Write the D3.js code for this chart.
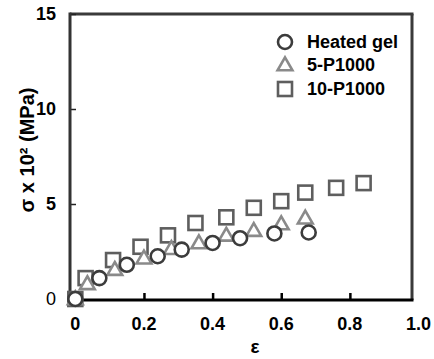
<!DOCTYPE html>
<html>
<head>
  <meta charset="utf-8">
  <script src="https://d3js.org/d3.v7.min.js"></script>
  <style>
    body { margin: 0; background: white; }
    text { font-family: "Liberation Sans", Arial, sans-serif; font-weight: bold; fill: black; }
  </style>
</head>
<body>
<script>
  // strain values and stress (x 10^2 MPa)
  var heatedX = [0, 0.07, 0.15, 0.24, 0.31, 0.4, 0.48, 0.58, 0.68];
  var heatedY = [0, 1.1, 1.8, 2.25, 2.6, 2.95, 3.2, 3.45, 3.5];

  var p5X = [0, 0.035, 0.115, 0.2, 0.28, 0.36, 0.44, 0.52, 0.6, 0.67];
  var p5Y = [0, 0.8, 1.55, 2.15, 2.65, 2.95, 3.35, 3.6, 3.95, 4.25];

  var p10X = [0, 0.03, 0.11, 0.19, 0.27, 0.35, 0.44, 0.52, 0.6, 0.67, 0.76, 0.84];
  var p10Y = [0, 1.1, 2.05, 2.75, 3.35, 4.0, 4.3, 4.8, 5.15, 5.6, 5.85, 6.1];

  var xTicks = [0, 0.2, 0.4, 0.6, 0.8, 1.0];
  var yTicks = [0, 5, 10, 15];
  var seriesNames = ["Heated gel", "5-P1000", "10-P1000"];

  var W = 434, H = 359;
  // plot box (don't use "top" as a global name, it's window.top)
  var boxL = 70, boxR = 412, boxT = 14, boxB = 299;

  var svg = d3.select("body").append("svg")
      .attr("width", W)
      .attr("height", H);

  var x = d3.scaleLinear().domain([-0.0155, 0.981]).range([boxL, boxR]);
  var y = d3.scaleLinear().domain([0, 15]).range([boxB, boxT]);

  // frame
  svg.append("line").attr("x1", boxL).attr("x2", boxR + 1.5).attr("y1", boxT).attr("y2", boxT)
      .attr("stroke", "#3a3a3a").attr("stroke-width", 3);
  svg.append("line").attr("x1", boxR).attr("x2", boxR).attr("y1", boxT).attr("y2", boxB + 1)
      .attr("stroke", "#3a3a3a").attr("stroke-width", 3);

  // y axis
  var yAxis = d3.axisRight(y).tickValues(yTicks).tickSize(6).tickFormat("");
  var gy = svg.append("g").attr("transform", "translate(" + boxL + ",0)").call(yAxis);
  gy.select(".domain").remove();
  gy.selectAll(".tick line").attr("stroke", "#222").attr("stroke-width", 1.5);
  svg.append("line").attr("x1", boxL).attr("x2", boxL).attr("y1", boxT - 1.5).attr("y2", boxB + 1)
      .attr("stroke", "#333").attr("stroke-width", 3);

  svg.append("g").selectAll("text")
      .data(yTicks)
      .enter()
      .append("text")
      .attr("x", 56)
      .attr("y", function(d) { return y(d); })
      .attr("dy", "0.36em")
      .attr("text-anchor", "end")
      .style("font-size", "18px")
      .style("font-weight", function(d) { return d == 0 ? "normal" : "bold"; })
      .text(function(d) { return d; });

  // x axis
  var xAxis = d3.axisTop(x).tickValues(xTicks.slice(1, 5)).tickSize(7).tickFormat("");
  var gx = svg.append("g").attr("transform", "translate(0," + (boxB + 1) + ")").call(xAxis);
  gx.select(".domain").remove();
  gx.selectAll(".tick line").attr("stroke", "black").attr("stroke-width", 2.5);
  svg.append("line").attr("x1", boxL - 1.5).attr("x2", boxR + 1.5).attr("y1", boxB + 1).attr("y2", boxB + 1)
      .attr("stroke", "black").attr("stroke-width", 3);

  svg.append("g").selectAll("text")
      .data(xTicks)
      .enter()
      .append("text")
      .attr("x", function(d) { return x(d); })
      .attr("y", 330)
      .attr("text-anchor", "middle")
      .style("font-size", "18px")
      .text(function(d) { return d == 0 ? "0" : d.toFixed(1); });

  // axis titles
  svg.append("text")
      .attr("x", 255)
      .attr("y", 353)
      .attr("text-anchor", "middle")
      .style("font-size", "19px")
      .text("ε");

  svg.append("text")
      .attr("transform", "translate(34,150) rotate(-90)")
      .attr("text-anchor", "middle")
      .style("font-size", "20px")
      .text("σ x 10² (MPa)");

  // markers
  function pts(xs, ys) {
    return xs.map(function(d, i) { return [d, ys[i]]; });
  }

  var sq = 14, tri = d3.symbol().type(d3.symbolTriangle).size(95);

  svg.append("g").selectAll("rect")
      .data(pts(p10X, p10Y))
      .enter()
      .append("rect")
      .attr("x", function(d) { return x(d[0]) - sq / 2; })
      .attr("y", function(d) { return y(d[1]) - sq / 2; })
      .attr("width", sq)
      .attr("height", sq)
      .attr("fill", "white")
      .attr("stroke", "#5e5e5e")
      .attr("stroke-width", 2.6);

  svg.append("g").selectAll("path")
      .data(pts(p5X, p5Y))
      .enter()
      .append("path")
      .attr("d", tri)
      .attr("transform", function(d) { return "translate(" + x(d[0]) + "," + (y(d[1]) + 1) + ")"; })
      .attr("fill", "white")
      .attr("stroke", "#8a8a8a")
      .attr("stroke-width", 2.6);

  svg.append("g").selectAll("circle")
      .data(pts(heatedX, heatedY))
      .enter()
      .append("circle")
      .attr("cx", function(d) { return x(d[0]); })
      .attr("cy", function(d) { return y(d[1]); })
      .attr("r", 7)
      .attr("fill", "white")
      .attr("stroke", "#3c3c3c")
      .attr("stroke-width", 2.6);

  // legend
  var legY = [42, 65, 89];
  var leg = svg.append("g");
  leg.append("circle").attr("cx", 285).attr("cy", legY[0]).attr("r", 7)
      .attr("fill", "white").attr("stroke", "#3c3c3c").attr("stroke-width", 2.6);
  leg.append("path").attr("d", tri).attr("transform", "translate(285," + (legY[1] + 1) + ")")
      .attr("fill", "white").attr("stroke", "#8a8a8a").attr("stroke-width", 2.6);
  leg.append("rect").attr("x", 285 - sq / 2).attr("y", legY[2] - sq / 2).attr("width", sq).attr("height", sq)
      .attr("fill", "white").attr("stroke", "#5e5e5e").attr("stroke-width", 2.6);

  leg.selectAll("text")
      .data(seriesNames)
      .enter()
      .append("text")
      .attr("x", 307)
      .attr("y", function(d, i) { return legY[i]; })
      .attr("dy", "0.36em")
      .style("font-size", "18px")
      .text(function(d) { return d; });
</script>
</body>
</html>
